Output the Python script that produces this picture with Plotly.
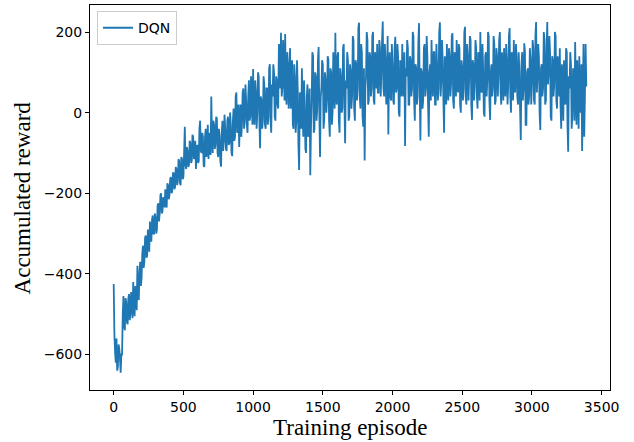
import plotly.graph_objects as go

reward = [
    -425, -550, -595, -620, -560, -640, -630, -575, -585, -610, -645, -600, -600, -500, -455, -530, -540, -460, -470, -520,
    -525, -460, -450, -515, -500, -445, -470, -510, -420, -480, -505, -430, -440, -490, -380, -450, -465, -395, -370, -430,
    -410, -350, -330, -385, -370, -310, -305, -360, -355, -290, -300, -345, -270, -310, -320, -265, -255, -300, -300, -250,
    -260, -300, -290, -230, -225, -270, -250, -205, -200, -250, -245, -210, -215, -235, -190, -230, -235, -175, -180, -215,
    -205, -165, -160, -200, -195, -150, -150, -190, -185, -135, -140, -180, -170, -115, -120, -175, -180, -110, -115, -165,
    -160, -100, -35, -130, -140, -85, -95, -135, -130, -70, -75, -125, -120, -55, -60, -115, -110, -70, -140, -90,
    -80, -125, -120, -40, -20, -95, -100, -50, -60, -130, -135, -60, -40, -110, -90, -30, -115, -70, -50, -105,
    40, -60, -100, -20, -30, -90, -80, -10, -15, -100, -110, -40, -60, -120, -134, -50, -20, -95, -70, -5,
    -40, -90, -95, -20, -10, -80, -75, 0, -30, -100, -108, -20, 10, -70, -60, 40, 50, -50, -40, 20,
    -85, -20, 20, -60, -30, 50, 60, -40, -20, 70, 30, -30, -50, 40, 80, -20, -10, 90, 40, -30,
    108, -10, -30, 80, 50, -40, 0, 100, 90, -20, -88, 40, 30, -40, -20, 90, 70, -30, -40, 60,
    60, -30, -10, 110, 120, -20, -50, 70, 40, 120, 100, -10, -20, 90, 80, 20, 10, 170, 150, 60,
    198, 40, 60, 180, 140, 30, 195, 50, 20, 150, 120, 10, 80, 160, 10, 110, 130, -30, -40, 120,
    90, -50, -20, 130, 60, -80, -142, 50, 40, -40, 110, 0, -60, 80, 20, -90, -100, 40, 70, -60,
    -30, 60, -155, -40, 30, 150, 140, -50, -40, 100, 90, -20, 10, 130, 163, 0, -110, 40, 60, 130,
    120, -40, -20, 100, 80, 0, 30, 140, 131, -20, -60, 110, 100, -30, 0, 150, 60, 10, 198, 40,
    20, 140, 150, -20, -50, 110, 90, 0, 10, 160, 170, 20, -76, 80, 60, 150, 130, -20, -10, 120,
    100, 10, 40, 190, 180, 10, -20, 130, 120, 30, 60, 210, 223, 40, 10, 170, 150, -10, -35, 110,
    -119, 60, 90, 200, 180, 20, 30, 150, 140, 40, 60, 190, 200, 30, 20, 150, 120, 60, 170, 50,
    50, 180, 160, 40, 90, 180, 226, 60, 40, 170, 130, 20, 80, 190, -54, 100, 150, 40, 30, 170,
    120, 30, 20, 160, 188, 50, 60, 170, 140, 0, -10, 130, 100, 40, 170, 60, 40, 150, -83, 110,
    90, 180, 160, 20, 20, 140, 130, 40, 60, 200, 190, 30, -20, 120, 110, 20, 40, 170, 222, 60,
    -69, 110, 100, 10, 30, 160, 170, 40, 60, 190, 140, 20, -60, 100, 120, 30, 180, 60, 40, 150,
    150, 20, 20, 170, 110, 30, 60, 200, 224, 40, 80, 180, 130, 30, -50, 140, 100, 20, 170, 60,
    30, 160, 140, 40, 70, 190, 197, 30, 10, 150, 120, 40, 180, 70, 50, 170, 160, 20, 0, 130,
    110, 30, 60, 200, 213, 40, 20, 170, 140, 30, 90, 190, 180, 20, -18, 130, 120, 30, 70, 180,
    160, 40, 10, 150, 130, 30, 200, 60, 50, 170, 110, 0, -10, 140, 150, 40, 80, 200, 190, 30,
    -18, 100, 120, 40, 60, 190, 170, 20, 30, 160, 140, 40, 90, 180, 200, 50, 20, 150, 110, 30,
    160, 60, 40, 170, 130, 20, 70, 190, 210, 40, 0, 150, 120, 30, 180, 60, 50, 170, 140, 40,
    20, 150, 100, 10, -68, 120, 150, 30, 60, 172, 150, -30, -30, 100, 110, 20, 40, 160, 130, 20,
    70, 180, 160, 30, 20, 190, 225, 50, 90, 170, 140, 0, -43, 110, 120, 40, 60, 200, 180, 20,
    30, 160, 225, 70, 100, 190, 150, -10, -20, 140, 130, 40, 70, 200, 190, 30, 10, 140, 110, 40,
    160, 20, -40, 120, 80, -20, 130, 50, 20, 160, 150, -30, -97, 90, 60, 150, 120, -40, -10, 110,
    100, -20, 175, 60, -30, 130, 70, -40, 140, 30, 0, 120, -95, 40, 170, -60, 40, 170, 65,
]
episode_step = 5
episodes = [i * episode_step for i in range(len(reward))]

x_ticks = [0, 500, 1000, 1500, 2000, 2500, 3000, 3500]
y_ticks = [-600, -400, -200, 0, 200]

fig = go.Figure()
fig.add_trace(go.Scatter(
    x=episodes, y=reward, mode="lines", name="DQN",
    line=dict(color="#1f77b4", width=1.8, simplify=False),
))

tick_font = dict(family="DejaVu Sans", size=14, color="black")
title_font = dict(family="Liberation Serif", size=23, color="black")

fig.update_layout(
    width=634, height=442,
    margin=dict(l=90, r=24, t=5, b=52, autoexpand=False),
    paper_bgcolor="white", plot_bgcolor="white",
    showlegend=True,
    legend=dict(
        x=0.0135, y=0.984, xanchor="left", yanchor="top",
        bgcolor="white", bordercolor="#cccccc", borderwidth=1,
        itemwidth=30,
        font=dict(family="DejaVu Sans", size=14, color="black"),
    ),
    annotations=[
        dict(text="Training episode", xref="paper", yref="paper",
             x=0.5, y=-0.097, xanchor="center", yanchor="middle",
             showarrow=False, font=title_font),
        dict(text="Accumulated reward", xref="paper", yref="paper",
             x=-0.129, y=0.5, xanchor="center", yanchor="middle",
             textangle=-90, showarrow=False, font=title_font),
    ],
)
fig.update_xaxes(
    range=[-170, 3560], tickvals=x_ticks, showgrid=False, zeroline=False,
    showline=True, linecolor="black", linewidth=1, mirror=True,
    ticks="outside", ticklen=4, tickcolor="black", tickfont=tick_font,
    automargin=False,
)
fig.update_yaxes(
    range=[-688, 267], tickvals=y_ticks, showgrid=False, zeroline=False,
    showline=True, linecolor="black", linewidth=1, mirror=True,
    ticks="outside", ticklen=4, tickcolor="black", tickfont=tick_font,
    automargin=False,
)

fig.write_html(
    "out.html",
    config={"displayModeBar": False},
    post_script="document.body.style.margin='0';document.body.style.overflow='hidden';",
)
